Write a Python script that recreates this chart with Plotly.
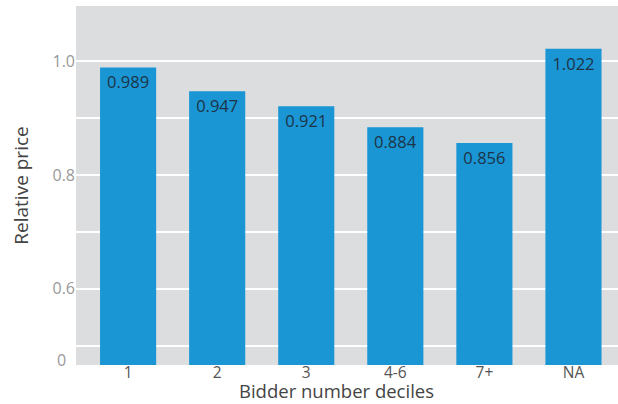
import plotly.graph_objects as go

categories = ["1", "2", "3", "4-6", "7+", "NA"]
values = [0.989, 0.947, 0.921, 0.884, 0.856, 1.022]
labels = ["0.989", "0.947", "0.921", "0.884", "0.856", "1.022"]
grid_vals = [0.5, 0.6, 0.7, 0.8, 0.9, 1.0]
grid_text = ["", "0.6", "", "0.8", "", "1.0"]

FONT = "Open Sans, sans-serif"

fig = go.Figure(go.Bar(
    x=categories, y=values, text=labels,
    textposition="inside", insidetextanchor="end",
    textfont=dict(family=FONT, size=16.5, color="#1d3446"),
    marker=dict(color="#1a96d5", line=dict(width=0)),
    width=0.63,
))

fig.update_layout(
    width=618, height=404,
    margin=dict(l=76, r=0, t=6, b=39),
    paper_bgcolor="white", plot_bgcolor="#dcdddf",
    showlegend=False,
    font=dict(family=FONT),
    xaxis=dict(range=[-0.585, 5.5], showgrid=False, ticks="",
               tickfont=dict(size=15.5, color="#555555"), ticklabelstandoff=-4),
    yaxis=dict(range=[0.466, 1.097], tickvals=grid_vals, ticktext=grid_text,
               gridcolor="white", gridwidth=2, zeroline=False, ticks="",
               tickfont=dict(size=16, color="#999999"),
               title=dict(text="Relative price", font=dict(size=19, color="#444444"), standoff=18)),
)
fig.add_annotation(xref="paper", yref="paper", x=0.48, y=0, yshift=-40, yanchor="bottom",
                   text="Bidder number deciles", showarrow=False,
                   font=dict(size=18.5, color="#444444"))
fig.add_annotation(xref="paper", yref="y", x=0, y=0.474, text="0", showarrow=False,
                   xanchor="right", xshift=-8, font=dict(size=16, color="#999999"))

fig.write_html("out.html", post_script="document.body.style.margin='0px';",
               config={"displayModeBar": False})
